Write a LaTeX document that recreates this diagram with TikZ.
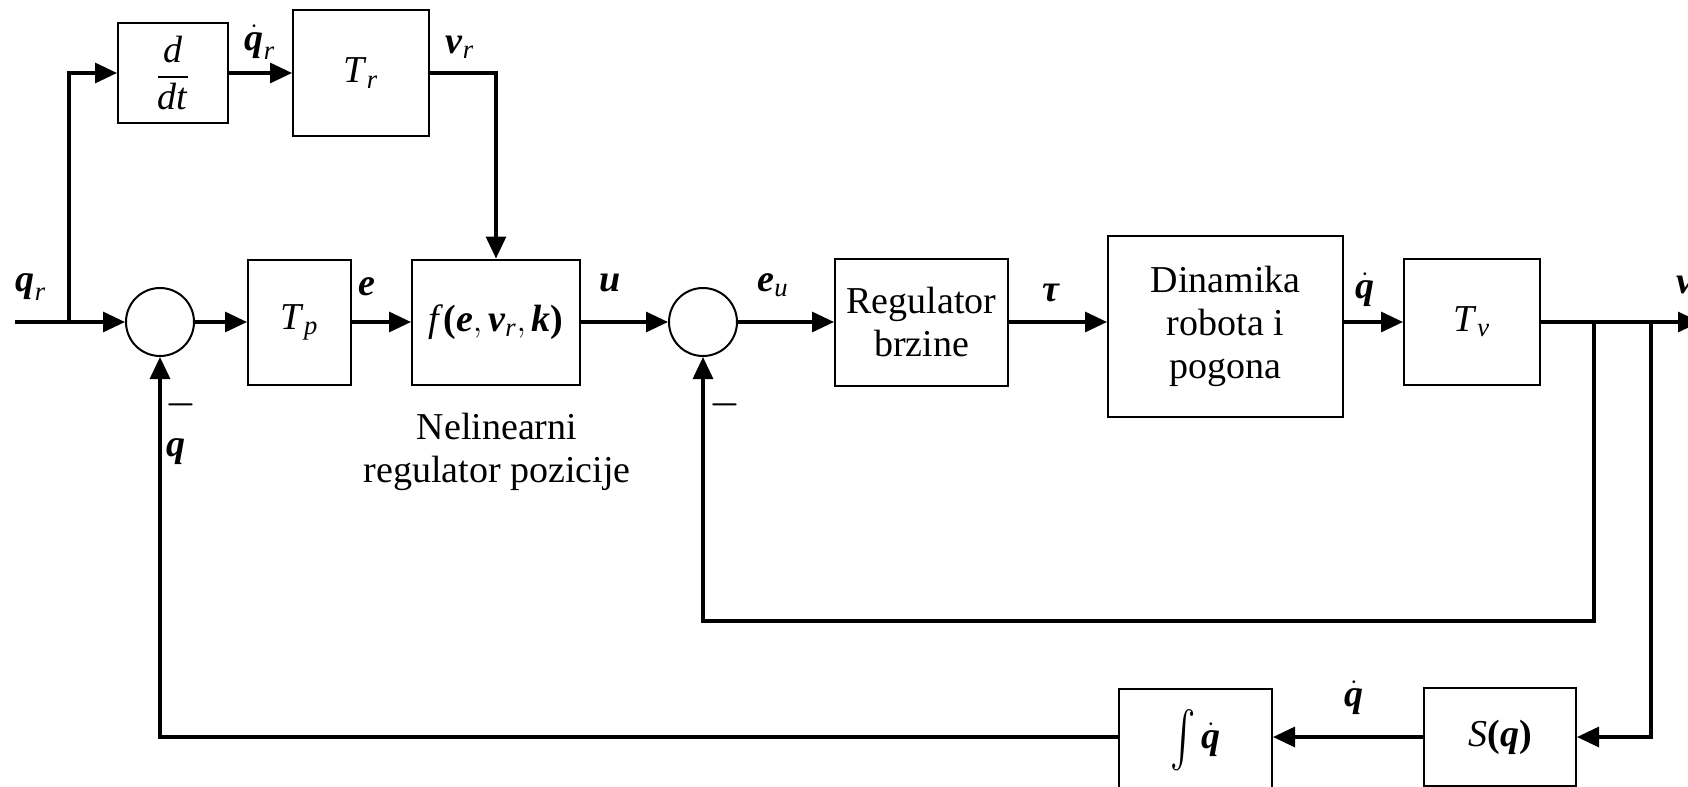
\documentclass[tikz,border=0pt]{standalone}
\usepackage{amsmath}
\usepackage{graphicx}
\usepackage{fontspec}
\setmainfont{Liberation Serif}
\usetikzlibrary{arrows.meta}
\newcommand{\bvar}[1]{\text{\textbf{\textit{#1}}}}
\newcommand{\ivar}[1]{\text{\textit{#1}}}
\tikzset{
  blok/.style={draw, line width=1pt, inner sep=0pt, align=center},
  sumc/.style={draw, circle, line width=1pt, minimum size=34pt, inner sep=0pt},
  sig/.style={line width=1.6pt, -{Triangle[length=11pt,width=10pt]}},
  lbl/.style={inner sep=0pt}
}
\begin{document}
\begin{tikzpicture}[x=0.5pt, y=-0.5pt, font=\fontsize{19}{21.5}\selectfont]
\useasboundingbox (0,0) rectangle (1688,787);
\clip (0,0) rectangle (1688,787);
% blocks
\node[blok, minimum width=55pt, minimum height=50pt] (ddt) at (173,73) {$\dfrac{\ivar{d}}{\ivar{dt}}$};
\node[blok, minimum width=68pt, minimum height=63pt] (Tr) at (361,73) {$\ivar{T}_{\ivar{r}}$};
\node[sumc] (sum1) at (160,322) {};
\node[blok, minimum width=51.5pt, minimum height=62.5pt] (Tp) at (299.5,322) {$\ivar{T}_{\ivar{p}}$};
\node[blok, minimum width=84pt, minimum height=62.5pt] (f) at (496,322) {$\ivar{f}\textbf{(}\bvar{e},\bvar{v}_{\ivar{r}},\bvar{k}\textbf{)}$};
\node[sumc] (sum2) at (703,322) {};
\node[blok, minimum width=86.5pt, minimum height=63.5pt] (reg) at (921.5,322) {Regulator\\brzine};
\node[blok, minimum width=117.5pt, minimum height=90.5pt] (dyn) at (1225.5,326) {Dinamika\\robota i\\pogona};
\node[blok, minimum width=68pt, minimum height=63pt] (Tv) at (1472,322) {$\ivar{T}_{\ivar{v}}$};
\node[blok, minimum width=76pt, minimum height=49pt] (Sq) at (1500,737) {$\ivar{S}\textbf{(}\bvar{q}\textbf{)}$};
\node[blok, minimum width=76.5pt, minimum height=51pt] (int) at (1195.5,740) {$\vcenter{\hbox{\scalebox{1.1}[1.6]{$\int$}}}\,\dot{\bvar{q}}$};
% points on the lines
\coordinate (in) at (15,322);
\coordinate (br) at (69,322);
\coordinate (b1) at (1594,322);
\coordinate (b2) at (1651,322);
\coordinate (out) at (1700,322);
\coordinate (fb) at (1594,621);
% forward path
\draw[sig] (in) -- (sum1.west);
\draw[sig] (br) |- (ddt.west);
\draw[sig] (ddt.east) -- (Tr.west);
\draw[sig] (Tr.east) -| (f.north);
\draw[sig] (sum1.east) -- (Tp.west);
\draw[sig] (Tp.east) -- (f.west);
\draw[sig] (f.east) -- (sum2.west);
\draw[sig] (sum2.east) -- (reg.west);
\draw[sig] (reg.east) -- (dyn.west |- reg.east);
\draw[sig] (dyn.east |- Tv.west) -- (Tv.west);
\draw[sig] (Tv.east) -- (out);
% feedback
\draw[sig] (b1) -- (fb) -| (sum2.south);
\draw[sig] (b2) |- (Sq.east);
\draw[sig] (Sq.west) -- (int.east |- Sq.west);
\draw[sig] (int.west |- Sq.west) -| (sum1.south);
% labels
\node[lbl] (lqr) at (31,287) {$\bvar{q}_{\ivar{r}}$};
\node[lbl] (lqdr) at (260,42) {$\dot{\bvar{q}}_{\ivar{r}}$};
\node[lbl] (lvr) at (460,47) {$\bvar{v}_{\ivar{r}}$};
\node[lbl] (le) at (367,287) {$\bvar{e}$};
\node[lbl] (lu) at (610,283) {$\bvar{u}$};
\node[lbl] (leu) at (773,285) {$\bvar{e}_{\ivar{u}}$};
\node[lbl] (ltau) at (1051,293) {\textbf{\textit{τ}}};
\node[lbl] (lqd) at (1365,290) {$\dot{\bvar{q}}$};
\node[lbl, anchor=west] (lv) at (1676,285) {$\bvar{v}$};
\node[lbl] (m1) at (181,405) {$\boldsymbol{-}$};
\node[lbl] (m2) at (725,405) {$\boldsymbol{-}$};
\node[lbl] (lq) at (176,452) {$\bvar{q}$};
\node[lbl] (lqd2) at (1354,698) {$\dot{\bvar{q}}$};
\node[lbl, align=center] (nrp) at (497,452) {Nelinearni\\regulator pozicije};
\end{tikzpicture}
\end{document}
